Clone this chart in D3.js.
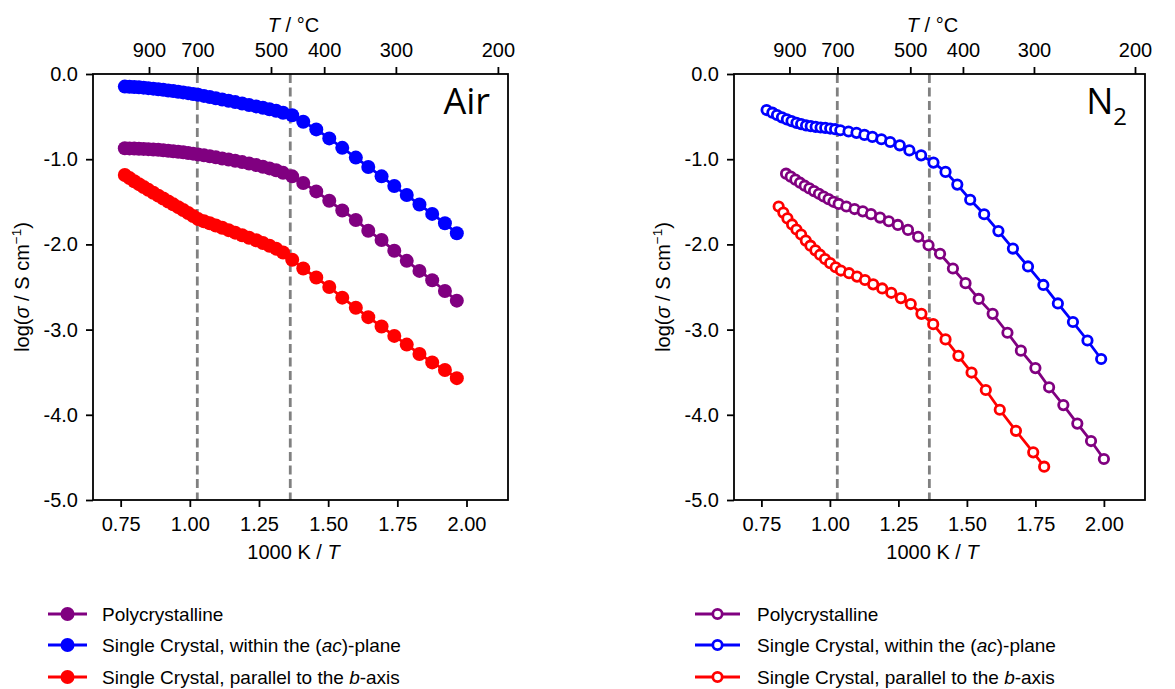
<!DOCTYPE html>
<html>
<head>
<meta charset="utf-8">
<script src="https://cdn.jsdelivr.net/npm/d3@7"></script>
<style>
body { margin: 0; background: #fff; }
svg text { font-family: "Liberation Sans", Arial, sans-serif; fill: #000; }
</style>
</head>
<body>
<div id="chart"></div>
<script>
// ---- data ----
// Air: all three series share the same 1000/T points
const airX = [0.765, 0.782, 0.799, 0.816, 0.833, 0.850, 0.868, 0.886, 0.904, 0.922,
    0.940, 0.958, 0.976, 0.994, 1.012, 1.030, 1.051, 1.072, 1.094, 1.117,
    1.140, 1.164, 1.189, 1.214, 1.240, 1.264, 1.288, 1.312, 1.337, 1.370,
    1.410, 1.457, 1.504, 1.551, 1.600, 1.645, 1.693, 1.739, 1.784, 1.830,
    1.876, 1.922, 1.965];
const airPoly = [-0.872, -0.873, -0.875, -0.877, -0.879, -0.882, -0.886, -0.890, -0.895, -0.900,
    -0.906, -0.912, -0.919, -0.927, -0.935, -0.945, -0.955, -0.966, -0.978, -0.991,
    -1.004, -1.018, -1.034, -1.051, -1.069, -1.088, -1.108, -1.130, -1.160, -1.201,
    -1.280, -1.378, -1.488, -1.602, -1.713, -1.839, -1.949, -2.075, -2.193, -2.311,
    -2.421, -2.547, -2.660];
const airAc = [-0.148, -0.150, -0.153, -0.156, -0.160, -0.166, -0.172, -0.179, -0.186, -0.193,
    -0.200, -0.208, -0.216, -0.225, -0.234, -0.244, -0.257, -0.270, -0.284, -0.299,
    -0.314, -0.330, -0.346, -0.363, -0.380, -0.397, -0.414, -0.432, -0.455, -0.485,
    -0.560, -0.650, -0.756, -0.867, -0.981, -1.091, -1.201, -1.315, -1.421, -1.532,
    -1.642, -1.752, -1.870];
const airB = [-1.185, -1.222, -1.258, -1.293, -1.327, -1.360, -1.394, -1.428, -1.462, -1.496,
    -1.530, -1.563, -1.597, -1.632, -1.667, -1.703, -1.728, -1.752, -1.778, -1.805,
    -1.833, -1.862, -1.892, -1.922, -1.952, -1.983, -2.015, -2.050, -2.095, -2.180,
    -2.283, -2.389, -2.500, -2.625, -2.744, -2.854, -2.964, -3.074, -3.176, -3.286,
    -3.385, -3.475, -3.570];

// N2
const n2PolyX = [0.840, 0.857, 0.874, 0.891, 0.908, 0.925, 0.942, 0.960, 0.977, 0.995,
    1.013, 1.032, 1.060, 1.090, 1.120, 1.150, 1.183, 1.215, 1.248, 1.285,
    1.322, 1.360, 1.402, 1.449, 1.495, 1.543, 1.594, 1.648, 1.697, 1.750,
    1.800, 1.852, 1.903, 1.953, 2.000];
const n2Poly = [-1.170, -1.205, -1.240, -1.276, -1.311, -1.343, -1.374, -1.406, -1.438, -1.469,
    -1.500, -1.525, -1.555, -1.585, -1.612, -1.645, -1.685, -1.728, -1.772, -1.830,
    -1.910, -2.010, -2.110, -2.283, -2.455, -2.640, -2.815, -3.037, -3.247, -3.452,
    -3.677, -3.886, -4.103, -4.308, -4.519];
const n2AcX = [0.769, 0.790, 0.807, 0.825, 0.843, 0.860, 0.878, 0.895, 0.913, 0.930,
    0.948, 0.966, 0.983, 1.001, 1.019, 1.038, 1.068, 1.097, 1.126, 1.155,
    1.188, 1.220, 1.255, 1.290, 1.333, 1.378, 1.422, 1.465, 1.512, 1.563,
    1.615, 1.668, 1.723, 1.779, 1.832, 1.887, 1.940, 1.990];
const n2Ac = [-0.423, -0.454, -0.481, -0.509, -0.533, -0.553, -0.573, -0.588, -0.604, -0.612,
    -0.620, -0.628, -0.632, -0.640, -0.648, -0.660, -0.675, -0.691, -0.715, -0.738,
    -0.766, -0.798, -0.837, -0.897, -0.955, -1.040, -1.149, -1.298, -1.476, -1.646,
    -1.844, -2.049, -2.259, -2.476, -2.693, -2.911, -3.128, -3.345];
const n2BX = [0.813, 0.830, 0.845, 0.862, 0.878, 0.895, 0.912, 0.929, 0.947, 0.964,
    0.982, 1.001, 1.021, 1.040, 1.070, 1.099, 1.128, 1.158, 1.191, 1.224,
    1.259, 1.295, 1.334, 1.377, 1.422, 1.469, 1.517, 1.569, 1.620, 1.679,
    1.742, 1.782];
const n2B = [-1.555, -1.627, -1.695, -1.766, -1.825, -1.884, -1.955, -2.015, -2.070, -2.121,
    -2.172, -2.220, -2.268, -2.307, -2.338, -2.378, -2.418, -2.469, -2.517, -2.568,
    -2.630, -2.700, -2.815, -2.936, -3.115, -3.308, -3.504, -3.709, -3.941, -4.188,
    -4.441, -4.609];

const phaseLines = [1.027, 1.363];          // dashed lines, 1000 K / T
const yTicks = [-5, -4, -3, -2, -1, 0];
const yTickLabels = ["-5.0", "-4.0", "-3.0", "-2.0", "-1.0", "0.0"];
const xTicks = [0.75, 1.00, 1.25, 1.50, 1.75, 2.00];
const xTickLabels = ["0.75", "1.00", "1.25", "1.50", "1.75", "2.00"];
const topTemps = [900, 700, 500, 400, 300, 200];   // °C

const seriesNames = ["Polycrystalline", "ac", "b"];
const colors = ["#800080", "#0000ff", "#ff0000"];

const width = 1175;
const height = 689;
const plotTop = 74, plotBottom = 500;
const fontSize = "20px";

const svg = d3.select("#chart")
    .append("svg")
    .attr("width", width)
    .attr("height", height);

const panels = [
    {
        left: 93, right: 508, open: false, label: "Air",
        series: [
            { x: airX, y: airPoly, color: colors[0] },
            { x: airX, y: airAc, color: colors[1] },
            { x: airX, y: airB, color: colors[2] }
        ],
        legendX: 48
    },
    {
        left: 734, right: 1145, open: true, label: "N",
        series: [
            { x: n2PolyX, y: n2Poly, color: colors[0] },
            { x: n2AcX, y: n2Ac, color: colors[1] },
            { x: n2BX, y: n2B, color: colors[2] }
        ],
        legendX: 695
    }
];

function styleAxis(g) {
    g.attr("font-size", null).attr("font-family", null);
    g.selectAll("text").style("font-size", fontSize);
    g.selectAll("line").attr("stroke", "#000").attr("stroke-width", 1.8);
    g.select(".domain").remove();
}

function marker(sel, open, color) {
    sel.attr("r", open ? 4.7 : 7)
        .attr("fill", open ? "#fff" : color)
        .attr("stroke", open ? color : "none")
        .attr("stroke-width", 2.8);
}

panels.forEach(p => {
    const x = d3.scaleLinear().domain([0.65, 2.15]).range([p.left, p.right]);
    const y = d3.scaleLinear().domain([-5, 0]).range([plotBottom, plotTop]);
    const g = svg.append("g");

    // dashed transition lines
    g.selectAll(".phase")
        .data(phaseLines)
        .enter()
        .append("line")
        .attr("x1", d => x(d)).attr("x2", d => x(d))
        .attr("y1", plotTop).attr("y2", plotBottom)
        .attr("stroke", "#808080")
        .attr("stroke-width", 2.8)
        .attr("stroke-dasharray", "9,4.5");

    const line = d3.line()
        .x(d => x(d[0]))
        .y(d => y(d[1]));

    p.series.forEach(s => {
        const pts = s.x.map((v, i) => [v, s.y[i]]);
        g.append("path")
            .datum(pts)
            .attr("d", line)
            .attr("fill", "none")
            .attr("stroke", s.color)
            .attr("stroke-width", 2.8);
        g.selectAll(null)
            .data(pts)
            .enter()
            .append("circle")
            .attr("cx", d => x(d[0]))
            .attr("cy", d => y(d[1]))
            .call(marker, p.open, s.color);
    });

    // frame
    g.append("rect")
        .attr("x", p.left).attr("y", plotTop)
        .attr("width", p.right - p.left).attr("height", plotBottom - plotTop)
        .attr("fill", "none")
        .attr("stroke", "#000")
        .attr("stroke-width", 1.8);

    // axes
    g.append("g")
        .attr("transform", `translate(${p.left},0)`)
        .call(d3.axisLeft(y).tickValues(yTicks).tickFormat((d, i) => yTickLabels[i])
            .tickSize(7).tickPadding(8))
        .call(styleAxis);

    g.append("g")
        .attr("transform", `translate(0,${plotBottom})`)
        .call(d3.axisBottom(x).tickValues(xTicks).tickFormat((d, i) => xTickLabels[i])
            .tickSize(7).tickPadding(10))
        .call(styleAxis);

    g.append("g")
        .attr("transform", `translate(0,${plotTop})`)
        .call(d3.axisTop(x).tickValues(topTemps.map(t => 1000 / (t + 273.15)))
            .tickFormat((d, i) => topTemps[i])
            .tickSize(7).tickPadding(10))
        .call(styleAxis);

    const midX = (p.left + p.right) / 2 - 7;

    // axis titles
    const xt = g.append("text")
        .attr("x", midX).attr("y", 559)
        .attr("text-anchor", "middle")
        .style("font-size", fontSize);
    xt.append("tspan").text("1000 K / ");
    xt.append("tspan").attr("font-style", "italic").text("T");

    const tt = g.append("text")
        .attr("x", midX).attr("y", 32)
        .attr("text-anchor", "middle")
        .style("font-size", fontSize);
    tt.append("tspan").attr("font-style", "italic").text("T");
    tt.append("tspan").text(" / °C");

    const yt = g.append("text")
        .attr("transform", `translate(${p.left - 64},${(plotTop + plotBottom) / 2}) rotate(-90)`)
        .attr("text-anchor", "middle")
        .style("font-size", fontSize);
    yt.append("tspan").text("log(");
    yt.append("tspan").attr("font-style", "italic").text("σ");
    yt.append("tspan").text(" / S cm");
    yt.append("tspan").attr("dy", -8).style("font-size", "13.5px").text("−1");
    yt.append("tspan").attr("dy", 8).text(")");

    // atmosphere label
    const lab = g.append("text")
        .attr("x", p.right - 18).attr("y", 114)
        .attr("text-anchor", "end")
        .style("font-family", "'Open Sans', sans-serif")
        .style("font-size", "36px");
    lab.append("tspan").text(p.label);
    if (p.open) {
        lab.append("tspan").attr("dy", 11).style("font-size", "24px").text("2");
    }

    // legend
    const rowY = [614, 645, 677];
    p.series.forEach((s, i) => {
        const lg = g.append("g").attr("transform", `translate(${p.legendX},${rowY[i]})`);
        const len = p.open ? 45 : 39;
        lg.append("line")
            .attr("x1", 0).attr("x2", len)
            .attr("stroke", s.color).attr("stroke-width", 3);
        lg.append("circle")
            .attr("cx", len / 2)
            .call(marker, p.open, s.color);
        const t = lg.append("text")
            .attr("x", len + (p.open ? 17 : 15))
            .attr("dy", "0.35em")
            .style("font-size", "19px");
        if (i === 0) {
            t.text(seriesNames[0]);
        } else if (i === 1) {
            t.append("tspan").text("Single Crystal, within the (");
            t.append("tspan").attr("font-style", "italic").text(seriesNames[1]);
            t.append("tspan").text(")-plane");
        } else {
            t.append("tspan").text("Single Crystal, parallel to the ");
            t.append("tspan").attr("font-style", "italic").text(seriesNames[2]);
            t.append("tspan").text("-axis");
        }
    });
});
</script>
</body>
</html>
